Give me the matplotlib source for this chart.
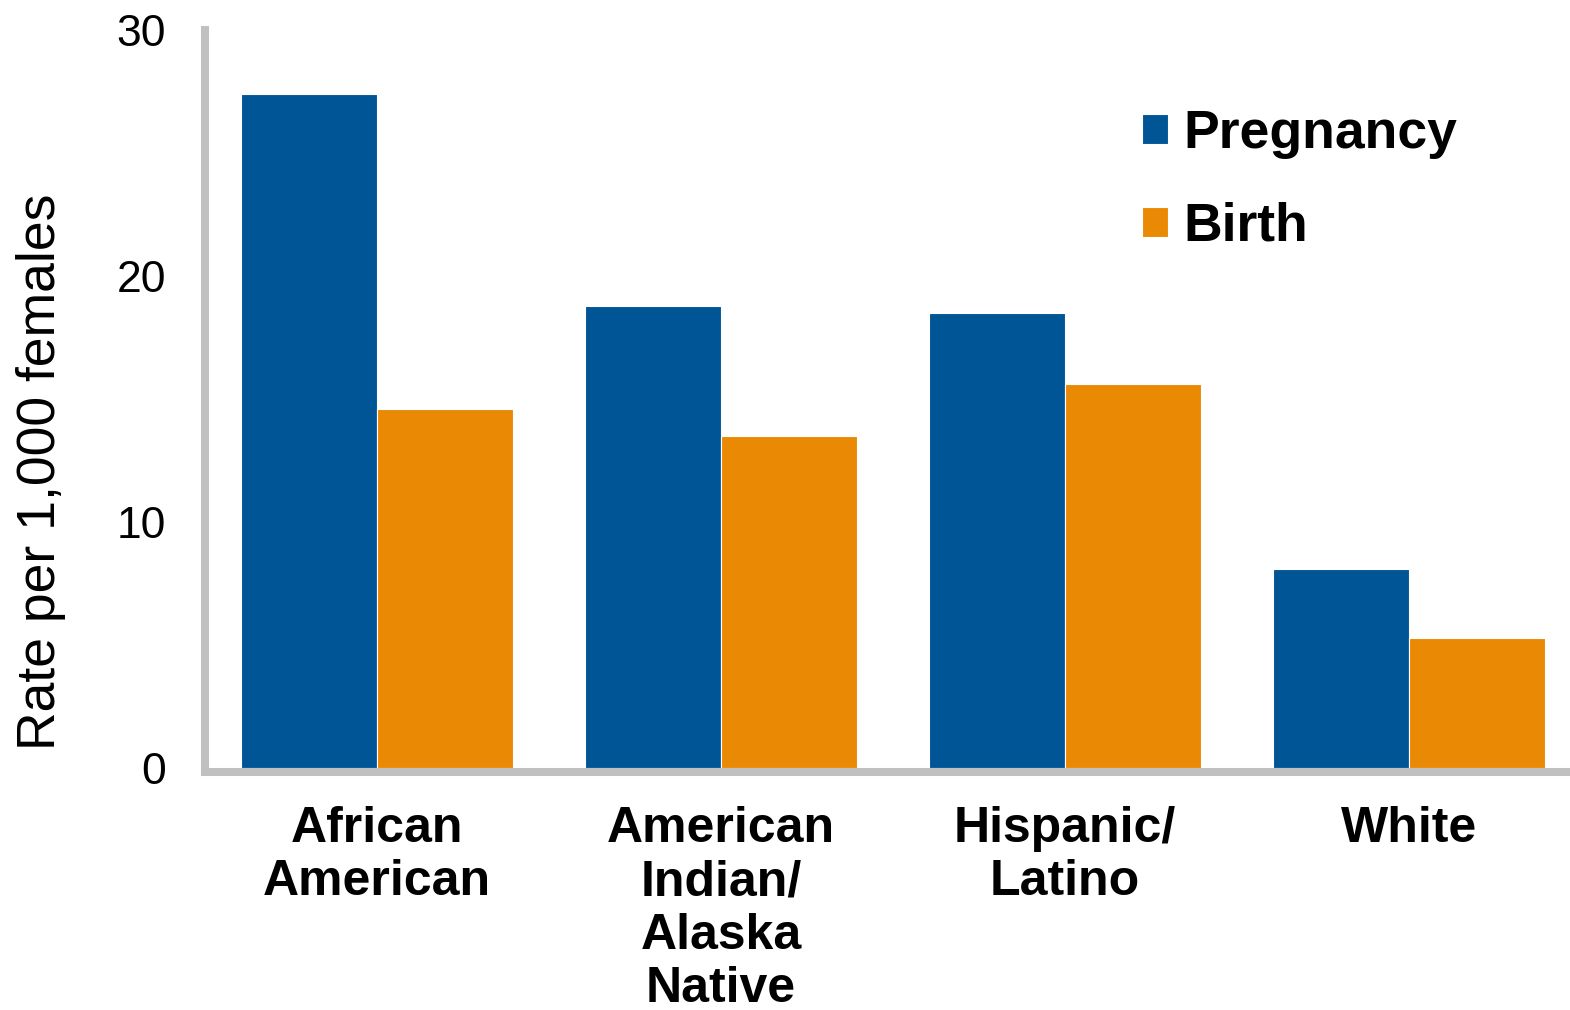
import matplotlib.pyplot as plt
import numpy as np

# data
groups = ["African\nAmerican", "American\nIndian/\nAlaska\nNative", "Hispanic/\nLatino", "White"]
pregnancy = [27.4, 18.8, 18.5, 8.1]
birth = [14.6, 13.5, 15.6, 5.3]
series_names = ["Pregnancy", "Birth"]

plt.rcParams['font.family'] = ['Liberation Sans', 'DejaVu Sans']

fig = plt.figure(figsize=(15.7, 10.1), dpi=100)
ax = fig.add_axes([205 / 1570, (1010 - 768) / 1010, 1376 / 1570, 738 / 1010])

# spines first: set_position resets the tick settings
for s in ["top", "right"]:
    ax.spines[s].set_visible(False)
for s in ["left", "bottom"]:
    ax.spines[s].set_color("#C0C0C0")
    ax.spines[s].set_linewidth(5.8)
ax.spines["bottom"].set_position(("outward", 3))

x = np.arange(len(groups))
w = 0.394
ax.bar(x - w / 2, pregnancy, w, color="#005596", edgecolor="white", linewidth=0.8, label=series_names[0])
ax.bar(x + w / 2, birth, w, color="#EA8904", edgecolor="white", linewidth=0.8, label=series_names[1])

ax.set_xlim(-0.5, 3.5)
ax.set_ylim(0, 30)
ax.set_yticks([0, 10, 20, 30])
ax.set_xticks(x)
ax.set_xticklabels(groups, fontsize=36, fontweight="bold", linespacing=1.21)
ax.tick_params(axis="y", labelsize=32, length=0, pad=28)
ax.tick_params(axis="x", length=0, pad=24)
ax.set_ylabel("Rate per 1,000 females", fontsize=38.5)
ax.yaxis.set_label_coords((66 - 205) / 1376, (768 - 472) / 738)

ax.legend(loc="upper left", bbox_to_anchor=(1142 / 1570, 1 - 109 / 1010),
          bbox_transform=fig.transFigure, frameon=False, borderpad=0, borderaxespad=0,
          prop={"size": 38.5, "weight": "bold"}, handlelength=0.49, handleheight=0.49,
          handletextpad=0.28, labelspacing=0.8)

fig.savefig("out.png", dpi=100)
